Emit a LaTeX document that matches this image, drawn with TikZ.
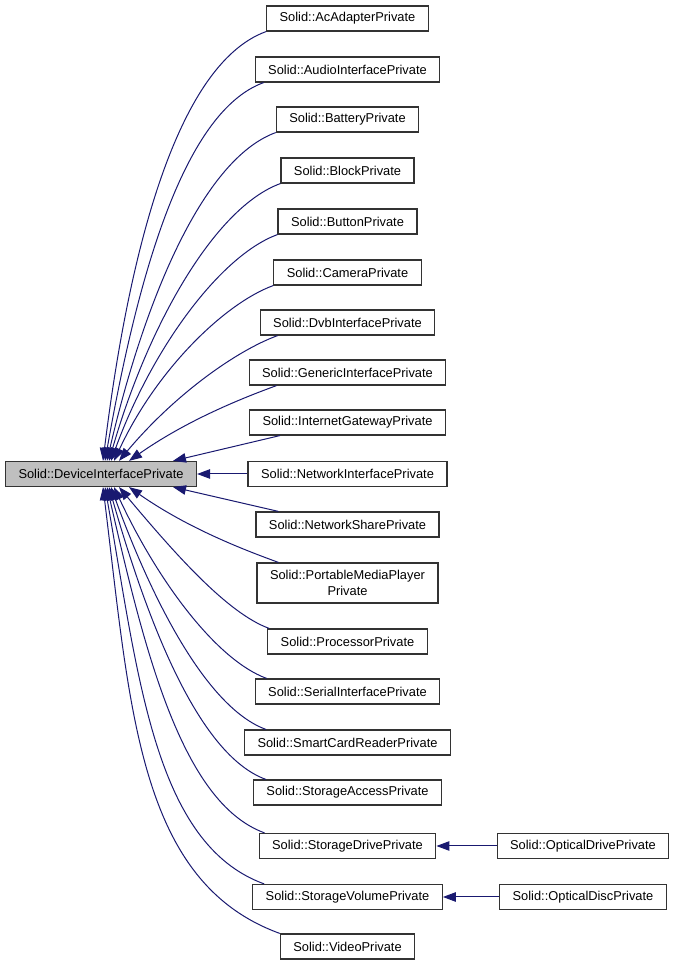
\documentclass[tikz,border=0pt]{standalone}
\usepackage{fontspec}
\setmainfont{Liberation Sans}
\usetikzlibrary{arrows.meta}
\definecolor{edgeblue}{RGB}{25,25,112}

\begin{document}
\begin{tikzpicture}[x=1pt,y=1pt,
  cls/.style={draw=black!80,line width=1.2pt,fill=white,minimum height=25pt,inner xsep=13pt,inner ysep=2pt,align=center,font=\fontsize{12.85}{15.5}\selectfont},
  edge/.style={draw=edgeblue,line width=1pt,-{Triangle[length=13pt,width=9.5pt]}}]
\useasboundingbox (0,0) rectangle (676,965);
\node[cls,fill=black!25] (main) at (101,491) {Solid::DeviceInterfacePrivate};
\foreach \n/\y/\t in {1/946.5/AcAdapterPrivate,2/895.5/AudioInterfacePrivate,3/845.5/BatteryPrivate,
  4/794.5/BlockPrivate,5/743.5/ButtonPrivate,6/692.5/CameraPrivate,7/642.5/DvbInterfacePrivate,
  8/592.5/GenericInterfacePrivate,9/542.5/InternetGatewayPrivate,10/491/NetworkInterfacePrivate,
  11/440.5/NetworkSharePrivate,13/323.5/ProcessorPrivate,14/273.5/SerialInterfacePrivate,
  15/222.5/SmartCardReaderPrivate,16/172.5/StorageAccessPrivate,17/119/StorageDrivePrivate,
  18/68/StorageVolumePrivate,19/18.5/VideoPrivate}
  \node[cls] (c\n) at (347.5,\y) {Solid::\t};
\node[cls,minimum height=40pt] (c12) at (347.5,382) {Solid::PortableMediaPlayer\\Private};
\node[cls] (odrive) at (583,119) {Solid::OpticalDrivePrivate};
\node[cls] (odisc) at (583,68) {Solid::OpticalDiscPrivate};
% upper curves
\foreach \n/\sx/\ex/\ang in {1/0/2/83,2/9/4/80,3/0/6/77,4/0/8/74,5/0/10/70,6/0/13/65,7/18/18/50,8/28/28/35}
  \draw[edge] ([xshift=\sx pt]c\n.south west) to[out=200,in=\ang,out looseness=.55,in looseness=1.1] ([xshift=\ex pt]main.north);
% straight ones
\draw[edge] ([xshift=31pt]c9.south west) -- ([xshift=72pt]main.north);
\draw[edge] (c10) -- (main);
\draw[edge] ([xshift=23pt]c11.north west) -- ([xshift=72pt]main.south);
% lower curves
\foreach \n/\sx/\ex/\ang/\lo/\li in {12/22/28/-35/.55/1.1,13/2/18/-50/.55/1.1,14/12/13/-65/.55/1.1,
  15/22/10/-70/.55/1.1,16/13/8/-74/.55/1.1,17/6/6/-77/.6/1.1,18/12/4/-80/.7/1.15,19/0/2/-83/.8/1.2}
  \draw[edge] ([xshift=\sx pt]c\n.north west) to[out=160,in=\ang,out looseness=\lo,in looseness=\li] ([xshift=\ex pt]main.south);
\draw[edge] (odrive) -- (c17);
\draw[edge] (odisc) -- (c18);
\end{tikzpicture}
\end{document}
